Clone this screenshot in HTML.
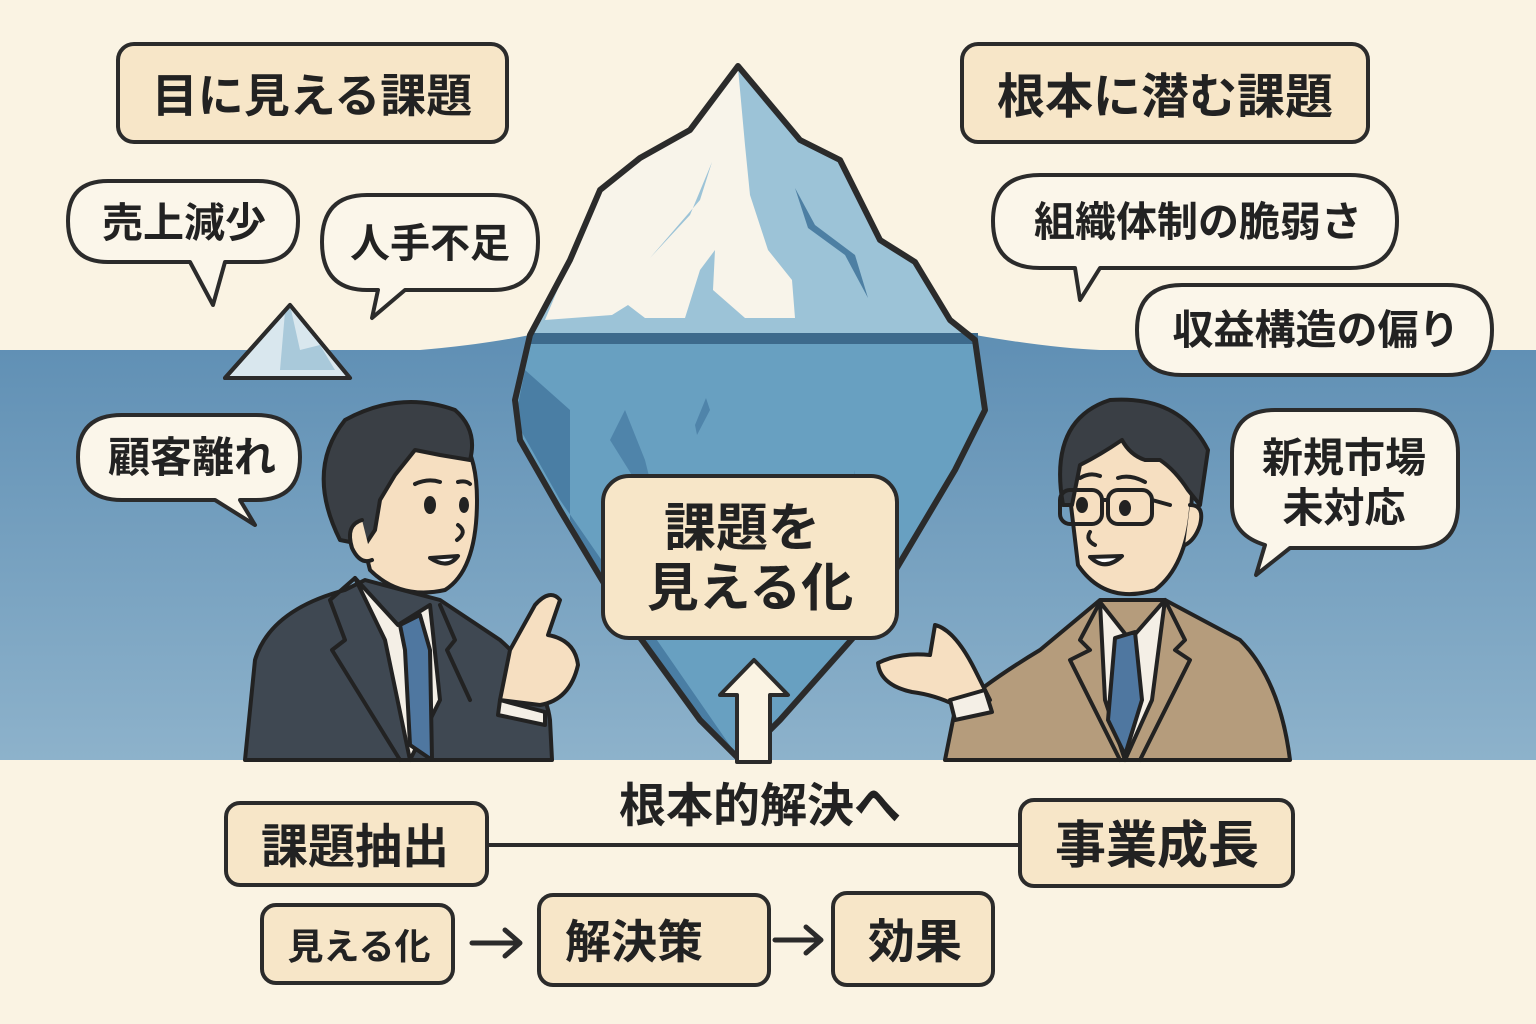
<!DOCTYPE html>
<html><head><meta charset="utf-8"><style>
html,body{margin:0;padding:0;background:#faf3e3;}
svg{display:block}
text{font-family:"Liberation Sans","Noto Sans CJK JP",sans-serif;font-weight:700;fill:#222;}
</style></head><body>
<svg width="1536" height="1024" viewBox="0 0 1536 1024" xmlns="http://www.w3.org/2000/svg">
<defs>
<linearGradient id="w" x1="0" y1="0" x2="0" y2="1"><stop offset="0" stop-color="#5f8fb4"/><stop offset="1" stop-color="#8db2cb"/></linearGradient>
</defs>
<rect width="1536" height="1024" fill="#faf3e3"/>
<!-- water -->
<path d="M0 350 L420 350 Q480 345 530 335 L975 335 Q1050 348 1100 350 L1536 350 L1536 760 L0 760 Z" fill="url(#w)"/>
<!-- small iceberg -->
<polygon points="225,378 290,305 350,378" fill="#d9e7ee" stroke="#2b2b2b" stroke-width="4" stroke-linejoin="round"/>
<polygon points="285,312 290,305 300,350 320,345 335,370 280,370" fill="#a9c9da"/>
<polygon points="225,378 290,305 350,378" fill="none" stroke="#2b2b2b" stroke-width="4" stroke-linejoin="round"/>
<!-- iceberg -->
<path d="M738 66 L690 130 L640 158 L600 190 L570 260 L530 335 L515 400 L520 440 L560 510 L620 610 L700 720 L740 760 L780 720 L860 630 L955 470 L985 410 L975 340 L950 320 L915 262 L880 240 L860 200 L840 160 L800 140 Z" fill="#68a0c1"/>
<path d="M738 66 L690 130 L640 158 L600 190 L570 260 L530 335 L975 335 L950 320 L915 262 L880 240 L860 200 L840 160 L800 140 Z" fill="#9cc3d7"/>
<path d="M738 68 L745 145 L750 195 L768 250 L792 280 L795 318 L745 318 L713 290 L715 250 L700 270 L685 318 L645 318 L628 305 L612 315 L545 320 L570 260 L600 190 L640 158 L690 130 Z" fill="#f8f4ea"/>
<path d="M712 162 L700 200 L650 258 L690 215 Z" fill="#9cc3d7"/>
<path d="M795 188 L808 228 L845 255 L868 298 L855 255 L815 225 Z" fill="#4d7fa3"/>
<rect x="528" y="333" width="450" height="11" fill="#3d6a8c"/>
<path d="M525 370 L570 410 L570 520 L620 610 L700 720 L740 760 L560 500 L515 420 Z" fill="#4a7ea4"/>
<path d="M625 410 L645 460 L660 520 L610 440 Z" fill="#4f84aa"/>
<path d="M706 398 L710 410 L697 435 L695 425 Z" fill="#4f84aa"/>
<path d="M850 505 L855 470 L855 520 L835 555 Z" fill="#4f84aa"/>
<path d="M738 66 L690 130 L640 158 L600 190 L570 260 L530 335 L515 400 L520 440 L560 510 L620 610 L700 720 L740 760 L780 720 L860 630 L955 470 L985 410 L975 340 L950 320 L915 262 L880 240 L860 200 L840 160 L800 140 Z" fill="none" stroke="#2b2b2b" stroke-width="6" stroke-linejoin="round"/>
<!-- bottom band -->
<rect x="0" y="760" width="1536" height="264" fill="#faf3e3"/>

<!-- left person -->
<g stroke="#222" stroke-width="4" stroke-linejoin="round" stroke-linecap="round">
<path d="M245 760 L255 660 Q270 610 345 590 L365 580 L440 600 L500 640 Q545 680 550 720 L552 760 Z" fill="#3f4852"/>
<polygon points="355,578 398,625 430,605 440,700 410,760 385,640" fill="#f4efe6"/>
<polygon points="400,625 420,615 430,650 432,760 410,745 405,650" fill="#4f77a0"/>
<path d="M355 578 L330 600 L345 640 L332 650 L400 760 M440 605 L455 640 L447 650 L470 700" fill="none"/>
<path d="M360 530 Q345 440 420 420 Q477 420 477 500 Q477 570 445 590 Q400 600 370 570 Z" fill="#f6dfc1"/>
<path d="M340 540 Q305 470 345 420 Q400 390 455 410 Q478 430 470 460 L440 455 L415 450 L395 475 L380 500 L375 530 L365 545 Z" fill="#3a3f45"/>
<path d="M362 520 Q345 525 352 548 Q360 565 372 560" fill="#f6dfc1"/>
<ellipse cx="430" cy="505" rx="4" ry="7" fill="#222"/>
<ellipse cx="464" cy="505" rx="3" ry="6" fill="#222"/>
<path d="M415 484 Q428 478 440 482 M458 482 Q466 480 470 484" fill="none"/>
<path d="M458 525 Q468 532 457 540" fill="none"/>
<path d="M430 558 Q448 570 458 556 Z" fill="#fff"/>
<path d="M500 700 L510 650 L535 605 Q550 588 560 600 L548 635 Q575 640 578 665 Q570 700 540 705 Z" fill="#f6dfc1"/>
<path d="M500 700 L545 712 L545 725 L498 715 Z" fill="#f4efe6"/>
</g>
<!-- right person -->
<g stroke="#222" stroke-width="4" stroke-linejoin="round" stroke-linecap="round">
<path d="M945 760 L955 710 Q990 680 1040 650 L1100 600 L1165 600 L1240 640 Q1280 680 1290 760 Z" fill="#b59c7c"/>
<polygon points="1100,602 1130,640 1165,600 1152,700 1125,760 1105,700" fill="#f4efe6"/>
<polygon points="1115,638 1135,632 1142,700 1125,755 1108,720" fill="#4f77a0"/>
<path d="M1100 602 L1080 640 L1090 650 L1070 660 L1120 760 M1165 600 L1185 640 L1175 650 L1190 660 L1140 760" fill="none"/>
<path d="M1068 480 Q1062 420 1110 410 Q1185 405 1192 470 Q1195 560 1155 590 Q1105 605 1078 565 Z" fill="#f6dfc1"/>
<path d="M1063 505 Q1048 420 1110 400 Q1180 395 1208 450 L1200 505 L1188 490 Q1175 470 1160 460 L1145 460 Q1130 455 1122 440 Q1100 455 1080 465 L1072 505 Z" fill="#3a3f45"/>
<path d="M1190 505 Q1205 505 1200 525 Q1195 540 1185 545" fill="#f6dfc1"/>
<rect x="1060" y="490" width="42" height="34" rx="10" fill="none"/>
<rect x="1108" y="490" width="44" height="34" rx="10" fill="none"/>
<path d="M1102 500 L1108 500 M1152 500 L1170 505" fill="none"/>
<ellipse cx="1082" cy="505" rx="4" ry="6" fill="#222"/>
<ellipse cx="1125" cy="508" rx="4" ry="6" fill="#222"/>
<path d="M1080 478 Q1090 472 1100 476 M1118 478 Q1130 474 1145 482" fill="none"/>
<path d="M1090 532 Q1085 540 1095 545" fill="none"/>
<path d="M1090 557 Q1105 572 1122 556 Z" fill="#fff"/>
<path d="M955 705 Q935 695 912 692 Q880 685 878 663 Q900 652 930 655 L935 625 Q955 630 975 670 L990 700 Z" fill="#f6dfc1"/>
<path d="M950 700 L985 690 L992 712 L955 720 Z" fill="#f4efe6"/>
</g>

<!-- title boxes -->
<g stroke="#2b2b2b" stroke-width="4" fill="#f7e6c8">
<rect x="118" y="44" width="389" height="98" rx="16"/>
<rect x="962" y="44" width="406" height="98" rx="16"/>
<rect x="603" y="476" width="294" height="162" rx="26"/>
<rect x="226" y="803" width="261" height="82" rx="14"/>
<rect x="1020" y="800" width="273" height="86" rx="14"/>
<rect x="262" y="905" width="191" height="78" rx="14"/>
<rect x="539" y="895" width="230" height="90" rx="14"/>
<rect x="833" y="893" width="160" height="92" rx="14"/>
</g>
<!-- bubbles -->
<g stroke="#2b2b2b" stroke-width="4" fill="#fbf6ea" stroke-linejoin="round">
<path d="M108 181 L258 181 Q298 181 298 221 Q298 262 258 262 L225 262 L213 305 L190 262 L108 262 Q68 262 68 221 Q68 181 108 181 Z"/>
<path d="M367 195 L493 195 Q538 195 538 242 Q538 290 493 290 L405 290 L372 318 L378 290 L367 290 Q322 290 322 242 Q322 195 367 195 Z"/>
<path d="M1040 175 L1350 175 Q1397 175 1397 221 Q1397 268 1350 268 L1100 268 L1080 300 L1075 268 L1040 268 Q993 268 993 221 Q993 175 1040 175 Z"/>
<path d="M1182 285 L1447 285 Q1492 285 1492 330 Q1492 375 1447 375 L1182 375 Q1137 375 1137 330 Q1137 285 1182 285 Z"/>
<path d="M122 415 L256 415 Q300 415 300 457 Q300 500 256 500 L240 500 L255 525 L215 500 L122 500 Q78 500 78 457 Q78 415 122 415 Z"/>
<path d="M1275 410 L1415 410 Q1458 410 1458 453 L1458 505 Q1458 548 1415 548 L1290 548 L1256 575 L1265 545 Q1232 535 1232 505 L1232 453 Q1232 410 1275 410 Z"/>
</g>
<!-- connectors -->
<line x1="487" y1="845" x2="1020" y2="845" stroke="#2b2b2b" stroke-width="4"/>
<path d="M472 943 L518 943 M505 930 L520 943 L505 956" stroke="#2b2b2b" stroke-width="5" fill="none" stroke-linecap="round" stroke-linejoin="round"/>
<path d="M775 940 L820 940 M806 927 L821 940 L806 953" stroke="#2b2b2b" stroke-width="5" fill="none" stroke-linecap="round" stroke-linejoin="round"/>
<!-- up arrow -->
<polygon points="737,762 737,695 720,695 754,660 788,695 770,695 770,762" fill="#faf3e3" stroke="#2b2b2b" stroke-width="4" stroke-linejoin="round"/>

<!-- text -->
<g text-anchor="middle">
<text x="312" y="112" font-size="46">目に見える課題</text>
<text x="1165" y="113" font-size="48">根本に潜む課題</text>
<text x="184" y="237" font-size="41">売上減少</text>
<text x="430" y="257" font-size="40">人手不足</text>
<text x="1198" y="236" font-size="41">組織体制の脆弱さ</text>
<text x="1316" y="344" font-size="41">収益構造の偏り</text>
<text x="192" y="472" font-size="42">顧客離れ</text>
<text x="1344" y="472" font-size="41">新規市場</text>
<text x="1344" y="522" font-size="41">未対応</text>
<text x="742" y="546" font-size="52">課題を</text>
<text x="750" y="606" font-size="52">見える化</text>
<text x="760" y="822" font-size="47">根本的解決へ</text>
<text x="355" y="863" font-size="47">課題抽出</text>
<text x="1157" y="863" font-size="51">事業成長</text>
<text x="359" y="959" font-size="36">見える化</text>
<text x="634" y="958" font-size="46">解決策</text>
<text x="915" y="958" font-size="47">効果</text>
</g>
</svg>
</body></html>
